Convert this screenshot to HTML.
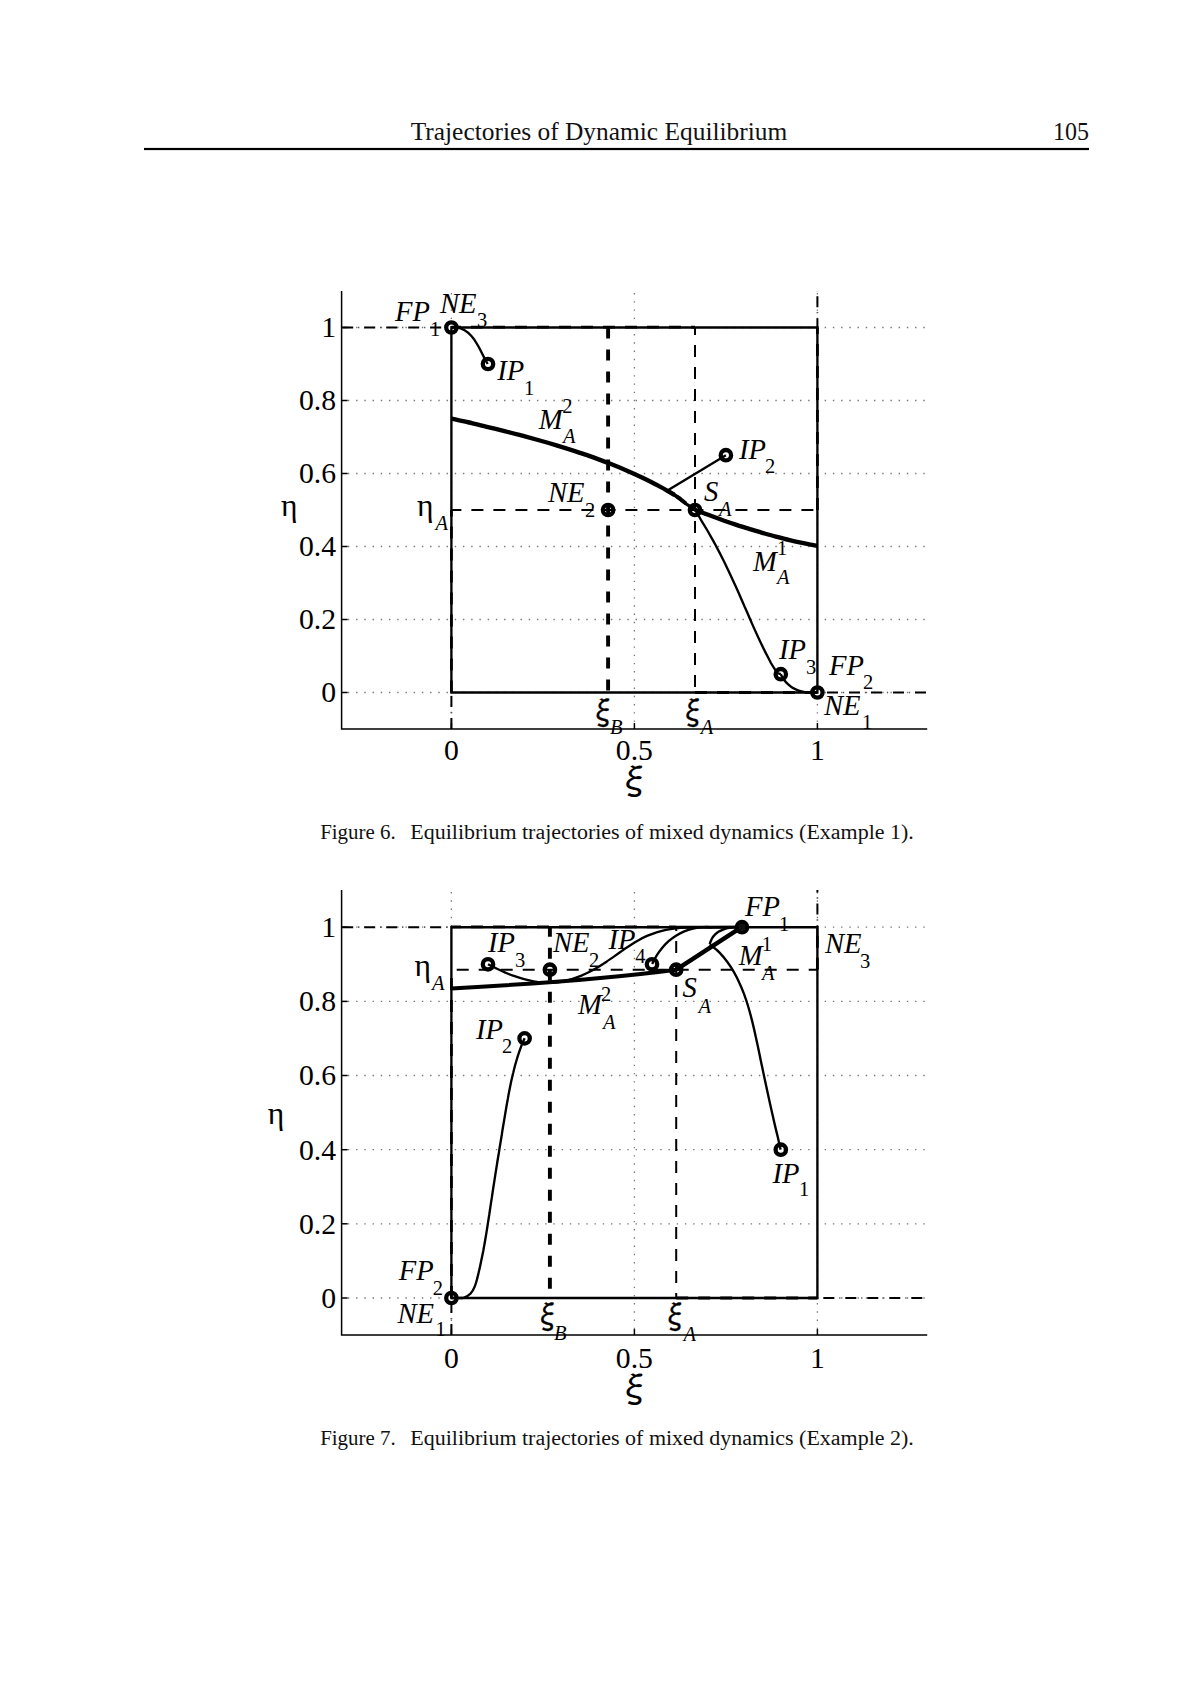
<!DOCTYPE html>
<html lang="en"><head><meta charset="utf-8"><title>Trajectories of Dynamic Equilibrium</title>
<style>
html,body{margin:0;padding:0;background:#fff}
body{width:1200px;height:1698px;overflow:hidden}
svg{display:block}
text{font-family:"Liberation Serif","DejaVu Serif",serif;fill:#000}
.t{font-size:29.7px}
.i{font-size:28.6px;font-style:italic}
.s{font-size:20.5px}
.si{font-size:20.5px;font-style:italic}
.g{font-size:31.5px}
.x{font-size:32px;font-family:"IPAGothic","Liberation Serif",serif;stroke:#000;stroke-width:.35}
.xl{font-size:36px;font-family:"IPAGothic","Liberation Serif",serif}
.cap{font-size:20px;fill:#111}
.hd{font-size:24.5px;fill:#111}
.ln{stroke:#000;stroke-width:2.35;fill:none}
.th{stroke:#000;stroke-width:4.4;fill:none}
.th2{stroke:#000;stroke-width:4;fill:none}
.m2{stroke:#000;stroke-width:3.8;fill:none}
.ov{stroke:#000;stroke-width:2.8;fill:none;stroke-dasharray:12 10}
.md{stroke:#000;stroke-width:3.2;fill:none}
.ax{stroke:#000;stroke-width:1.5;fill:none}
.grid{stroke:#777;stroke-width:1.3;fill:none;stroke-dasharray:1.4 6.82}
.dsh{stroke:#000;stroke-width:2;fill:none;stroke-dasharray:12 10}
.dshk{stroke:#000;stroke-width:3.9;fill:none;stroke-dasharray:11 11}
.dd{stroke:#000;stroke-width:2;fill:none;stroke-dasharray:11 11}
.dt{stroke:#555;stroke-width:1.7;fill:none;stroke-dasharray:1.3 20.7}
.mk{stroke:#000;stroke-width:4.3;fill:none}
</style></head><body>
<svg width="1200" height="1698" viewBox="0 0 1200 1698">
<rect x="0" y="0" width="1200" height="1698" fill="#fff"/>
<text class="hd" x="410.7" y="140" textLength="376.6" lengthAdjust="spacingAndGlyphs">Trajectories of Dynamic Equilibrium</text>
<text class="hd" x="1053" y="140.3" textLength="36" lengthAdjust="spacingAndGlyphs">105</text>
<rect x="144" y="147.9" width="945" height="2.2" fill="#000"/>
<g id="fig6">
<path class="grid" d="M347.9,692.5H927.2"/>
<path class="grid" d="M347.9,619.5H927.2"/>
<path class="grid" d="M347.9,546.5H927.2"/>
<path class="grid" d="M347.9,473.5H927.2"/>
<path class="grid" d="M347.9,400.5H927.2"/>
<path class="grid" d="M347.9,327.5H927.2"/>
<path class="grid" d="M451.4,293.0V729.0"/>
<path class="grid" d="M634.4,293.0V729.0"/>
<path class="grid" d="M817.4,293.0V729.0"/>
<path class="ax" d="M341.6,291.0V729.0H927.2"/>
<path class="ax" d="M341.6,692.5h6"/>
<path class="ax" d="M341.6,619.5h6"/>
<path class="ax" d="M341.6,546.5h6"/>
<path class="ax" d="M341.6,473.5h6"/>
<path class="ax" d="M341.6,400.5h6"/>
<path class="ax" d="M341.6,327.5h6"/>
<path class="ax" d="M451.4,729.0v-6"/>
<path class="ax" d="M634.4,729.0v-6"/>
<path class="ax" d="M817.4,729.0v-6"/>
<text class="t" x="336" y="702.2" text-anchor="end">0</text>
<text class="t" x="336" y="629.2" text-anchor="end">0.2</text>
<text class="t" x="336" y="556.2" text-anchor="end">0.4</text>
<text class="t" x="336" y="483.2" text-anchor="end">0.6</text>
<text class="t" x="336" y="410.2" text-anchor="end">0.8</text>
<text class="t" x="336" y="337.2" text-anchor="end">1</text>
<text class="t" x="451.4" y="760" text-anchor="middle">0</text>
<text class="t" x="634.4" y="760" text-anchor="middle">0.5</text>
<text class="t" x="817.4" y="760" text-anchor="middle">1</text>
<text class="g" x="281" y="515.7">η</text>
<text class="xl" x="616.7" y="793.7">ξ</text>
<path class="dd" stroke-dashoffset="0.00" d="M342.2,327.5H451.4"/><path class="dt" stroke-dashoffset="6.15" d="M342.2,327.5H451.4"/>
<path class="dd" stroke-dashoffset="0.00" d="M817.4,329.2V291.0"/><path class="dt" stroke-dashoffset="6.15" d="M817.4,329.2V291.0"/>
<path class="dd" stroke-dashoffset="12.40" d="M817.4,692.5H927.2"/><path class="dt" stroke-dashoffset="18.55" d="M817.4,692.5H927.2"/>
<path class="dd" stroke-dashoffset="0.00" d="M451.4,729.0V692.5"/><path class="dt" stroke-dashoffset="6.15" d="M451.4,729.0V692.5"/>
<path class="ln" d="M451.4,327.5H817.4V692.5H451.4Z"/>
<path class="ov" stroke-dashoffset="2.4" d="M451.4,327.2H695.0"/>
<path class="ov" d="M695.0,692.5H817.4"/>
<path class="ov" d="M451.4,692.5V510.0"/>
<path class="ov" d="M817.4,510.0V327.5"/>
<path class="dshk" d="M608.1,327.5V692.5"/>
<path class="dsh" stroke-dashoffset="4.5" d="M695.0,327.5V692.5"/>
<path class="dsh" stroke-dashoffset="2" d="M451.4,510.0H817.4"/>
<path class="th" d="M451.4,418.6 C457.3,420.0 463.3,421.1 469.2,422.5 C475.0,423.9 480.9,425.3 486.8,426.8 C492.7,428.2 498.6,429.7 504.5,431.1 C510.4,432.6 516.3,434.1 522.2,435.7 C528.1,437.3 534.0,438.9 539.8,440.5 C545.7,442.1 551.5,443.8 557.3,445.6 C563.2,447.4 569.0,449.2 574.8,451.1 C580.5,452.9 586.3,454.9 592.0,456.9 C597.7,459.0 603.4,461.1 609.1,463.3 C614.7,465.5 620.3,467.8 625.9,470.2 C631.5,472.6 637.0,475.1 642.5,477.7 C647.9,480.3 653.4,483.0 658.7,485.9 C664.1,488.7 669.2,491.9 674.5,495.0"/>
<path class="m2" d="M667.5,490.7 C669.2,491.6 670.8,492.6 672.4,493.6 C674.0,494.5 675.6,495.6 677.1,496.7 C678.6,497.7 680.2,498.8 681.6,500.0 C683.1,501.2 684.6,502.4 686.0,503.6"/>
<path class="md" d="M676.0,496.0 C677.5,497.3 679.0,498.5 680.6,499.7 C682.1,500.9 683.7,502.0 685.3,503.2 C686.8,504.3 688.5,505.4 690.1,506.5 C691.7,507.6 693.3,508.7 695.0,509.7"/>
<path class="th" d="M695.0,509.7 C699.4,511.4 703.8,513.2 708.2,514.8 C712.7,516.5 717.1,518.1 721.6,519.7 C726.0,521.3 730.5,522.8 735.0,524.3 C739.5,525.8 744.0,527.3 748.5,528.7 C753.1,530.1 757.6,531.5 762.1,532.8 C766.7,534.1 771.2,535.4 775.8,536.6 C780.4,537.8 785.0,539.0 789.6,540.1 C794.2,541.2 798.8,542.2 803.5,543.2 C808.1,544.2 812.7,545.1 817.4,545.9"/>
<path class="ln" d="M451.4,327.5 C454.8,327.1 457.8,327.5 460.7,328.5 C463.5,329.4 466.1,331.0 468.3,332.9 C470.6,334.9 472.6,337.3 474.4,339.8 C476.1,342.3 477.7,345.0 479.2,347.8 C480.6,350.6 482.0,353.4 483.4,356.1 C484.8,358.9 486.2,361.5 487.7,364.0"/>
<path class="ln" d="M725.9,455.2L667.5,490.5"/>
<path class="ln" d="M695.3,510.0 C697.6,513.4 699.2,517.1 701.4,520.6 C703.5,524.0 705.6,527.5 707.7,531.0 C709.7,534.5 711.7,538.1 713.7,541.6 C715.6,545.2 717.5,548.8 719.4,552.4 C721.2,556.0 723.1,559.6 724.9,563.2 C726.6,566.9 728.4,570.5 730.1,574.2 C731.8,577.9 733.5,581.6 735.2,585.3 C736.9,589.0 738.5,592.7 740.2,596.4 C741.8,600.1 743.4,603.9 745.0,607.6 C746.7,611.3 748.3,615.0 749.9,618.8 C751.5,622.5 753.2,626.2 754.8,629.9 C756.5,633.6 758.2,637.3 759.9,641.0 C761.7,644.6 763.4,648.3 765.2,651.9 C767.1,655.5 768.9,659.1 770.8,662.7 C772.8,666.3 775.1,669.6 777.2,673.1 L780.8,674.2"/>
<path class="ln" d="M780.8,674.2 C781.7,676.2 782.8,678.0 784.0,679.7 C785.2,681.4 786.6,683.0 788.2,684.4 C789.7,685.8 791.3,687.1 793.1,688.1 C794.9,689.2 796.8,690.0 798.7,690.6 C800.7,691.3 802.8,691.8 804.8,692.1 C806.9,692.4 809.0,692.5 811.1,692.6 C813.3,692.6 815.3,692.6 817.4,692.5"/>
<circle class="mk" cx="451.4" cy="327.5" r="5.2"/>
<circle class="mk" cx="488.0" cy="364.0" r="5.2"/>
<circle class="mk" cx="725.9" cy="455.2" r="5.2"/>
<circle class="mk" cx="608.1" cy="510.0" r="5.2"/>
<circle class="mk" cx="695.0" cy="510.0" r="5.2"/>
<circle class="mk" cx="780.8" cy="674.2" r="5.2"/>
<circle class="mk" cx="817.4" cy="692.5" r="5.2"/>
<text class="i" x="395" y="321">FP</text><text class="s" x="430" y="335.5">1</text>
<text class="i" x="440" y="313">NE</text><text class="s" x="477" y="327">3</text>
<text class="i" x="497.3" y="380">IP</text><text class="s" x="524" y="394.7">1</text>
<text class="i" x="538.7" y="428.7">M</text><text class="si" x="563" y="442.7">A</text><text class="s" x="562.3" y="412.7">2</text>
<text class="i" x="739" y="458.6">IP</text><text class="s" x="765" y="473">2</text>
<text class="i" x="704" y="501">S</text><text class="si" x="719" y="516">A</text>
<text class="i" x="548" y="502">NE</text><text class="s" x="585" y="517">2</text>
<text class="i" x="753" y="571">M</text><text class="si" x="777" y="584">A</text><text class="s" x="777" y="555">1</text>
<text class="i" x="779" y="659">IP</text><text class="s" x="806" y="674">3</text>
<text class="i" x="829" y="675">FP</text><text class="s" x="863" y="689">2</text>
<text class="i" x="824" y="715">NE</text><text class="s" x="862" y="729">1</text>
<text class="g" x="417" y="515.7">η</text><text class="si" x="435.5" y="530">A</text>
<text class="x" transform="translate(589.2,723.7) scale(0.88,1)">ξ</text><text class="si" x="610" y="733.7">B</text>
<text class="x" transform="translate(679,723.7) scale(0.88,1)">ξ</text><text class="si" x="700.7" y="733.7">A</text>
</g>
<text class="cap" x="320.2" y="839.3" textLength="75.5" lengthAdjust="spacingAndGlyphs">Figure 6.</text>
<text class="cap" x="410.3" y="839.3" textLength="503.5" lengthAdjust="spacingAndGlyphs">Equilibrium trajectories of mixed dynamics (Example 1).</text>
<g id="fig7">
<path class="grid" d="M347.9,1298.0H927.2"/>
<path class="grid" d="M347.9,1223.8H927.2"/>
<path class="grid" d="M347.9,1149.7H927.2"/>
<path class="grid" d="M347.9,1075.5H927.2"/>
<path class="grid" d="M347.9,1001.4H927.2"/>
<path class="grid" d="M347.9,927.2H927.2"/>
<path class="grid" d="M451.4,892.1V1335.1"/>
<path class="grid" d="M634.4,892.1V1335.1"/>
<path class="grid" d="M817.4,892.1V1335.1"/>
<path class="ax" d="M341.6,890.1V1335.1H927.2"/>
<path class="ax" d="M341.6,1298.0h6"/>
<path class="ax" d="M341.6,1223.8h6"/>
<path class="ax" d="M341.6,1149.7h6"/>
<path class="ax" d="M341.6,1075.5h6"/>
<path class="ax" d="M341.6,1001.4h6"/>
<path class="ax" d="M341.6,927.2h6"/>
<path class="ax" d="M451.4,1335.1v-6"/>
<path class="ax" d="M634.4,1335.1v-6"/>
<path class="ax" d="M817.4,1335.1v-6"/>
<text class="t" x="336" y="1307.9" text-anchor="end">0</text>
<text class="t" x="336" y="1233.7" text-anchor="end">0.2</text>
<text class="t" x="336" y="1159.6" text-anchor="end">0.4</text>
<text class="t" x="336" y="1085.4" text-anchor="end">0.6</text>
<text class="t" x="336" y="1011.3" text-anchor="end">0.8</text>
<text class="t" x="336" y="937.1" text-anchor="end">1</text>
<text class="t" x="451.4" y="1367.5" text-anchor="middle">0</text>
<text class="t" x="634.4" y="1367.5" text-anchor="middle">0.5</text>
<text class="t" x="817.4" y="1367.5" text-anchor="middle">1</text>
<text class="g" x="267.8" y="1123.7">η</text>
<text class="xl" x="617" y="1402">ξ</text>
<path class="dd" stroke-dashoffset="0.00" d="M342.2,927.2H451.4"/><path class="dt" stroke-dashoffset="6.15" d="M342.2,927.2H451.4"/>
<path class="dd" stroke-dashoffset="0.00" d="M817.4,936.5V890.1"/><path class="dt" stroke-dashoffset="6.15" d="M817.4,936.5V890.1"/>
<path class="dd" stroke-dashoffset="16.10" d="M817.4,1298.0H927.2"/><path class="dt" stroke-dashoffset="22.25" d="M817.4,1298.0H927.2"/>
<path class="dd" stroke-dashoffset="0.00" d="M451.4,1335.1V1298.0"/><path class="dt" stroke-dashoffset="6.15" d="M451.4,1335.1V1298.0"/>
<path class="ln" d="M451.4,927.2H817.4V1298.0H451.4Z"/>
<path class="ov" stroke-dashoffset="2.4" d="M451.4,926.9H676.2"/>
<path class="ov" d="M676.2,1298.0H817.4"/>
<path class="ov" d="M451.4,1298.0V969.7"/>
<path class="ov" d="M817.4,969.7V927.2"/>
<path class="ln" style="stroke-width:2.8" d="M676.2,927.2H742.0"/>
<path class="dshk" stroke-dashoffset="1.5" d="M549.9,927.2V1298.0"/>
<path class="dsh" stroke-dashoffset="8.3" d="M676.2,927.2V1298.0"/>
<path class="dsh" stroke-dashoffset="16.7" d="M451.4,969.7H817.4"/>
<path class="th2" d="M451.4,988.4 Q590,981 676.3,969.7"/>
<path class="th" d="M676.3,969.7 L742,926.9"/>
<path class="ln" d="M488.0,964.2 C490.7,965.7 493.6,967.0 496.5,968.5 C499.4,969.9 502.3,971.3 505.3,972.6 C508.4,973.9 511.4,975.1 514.6,976.2 C517.7,977.3 520.9,978.4 524.1,979.2 C527.3,980.1 530.5,980.9 533.7,981.4 C536.9,982.0 540.2,982.4 543.4,982.6 C546.6,982.9 549.8,982.9 553.0,982.7 C556.2,982.5 559.4,982.1 562.5,981.5 C565.6,980.9 568.7,980.1 571.8,979.1 C574.8,978.2 577.8,977.1 580.8,975.9 C583.8,974.6 586.8,973.3 589.7,971.8 C592.6,970.3 595.4,968.7 598.2,967.0 C601.0,965.3 603.8,963.5 606.5,961.7 C609.2,959.8 611.9,958.0 614.6,956.1 C617.3,954.2 619.9,952.3 622.6,950.4 C625.3,948.6 628.0,946.7 630.7,945.0 C633.4,943.2 636.2,941.5 639.0,940.0 C641.8,938.4 644.6,937.0 647.6,935.7 C650.5,934.4 653.5,933.3 656.6,932.3 C659.6,931.4 662.8,930.6 666.0,929.9 C669.1,929.3 672.4,928.8 675.6,928.4 C678.9,928.0 682.2,927.7 685.5,927.5 C688.8,927.3 692.1,927.3 695.3,927.3 C698.6,927.3 701.8,927.1 705.0,927.2 L742,927"/>
<path class="ln" d="M652.2,964.0 C653.4,961.0 655.0,958.3 656.6,955.6 C658.2,952.9 660.1,950.3 662.1,947.9 C664.1,945.5 666.3,943.3 668.6,941.2 C670.9,939.2 673.4,937.3 676.0,935.7 C678.7,934.0 681.4,932.6 684.3,931.4 C687.1,930.2 690.1,929.3 693.1,928.6 C696.2,927.9 699.3,927.4 702.5,927.2 C705.6,927.0 708.8,926.9 712.0,927.3"/>
<path class="ln" d="M709.8,944.3 C710.2,942.2 710.9,940.4 711.8,938.8 C712.7,937.1 713.9,935.6 715.2,934.4 C716.6,933.1 718.1,932.0 719.7,931.1 C721.4,930.2 723.1,929.4 725.0,928.8 C726.8,928.2 728.7,927.8 730.6,927.5 C732.6,927.2 734.5,927.0 736.4,926.9 C738.3,926.9 740.2,926.9 742.0,927.0"/>
<path class="ln" d="M780.6,1149.6 C779.6,1145.6 778.8,1141.6 777.9,1137.6 C776.9,1133.6 776.0,1129.6 775.0,1125.6 C774.1,1121.7 773.2,1117.7 772.3,1113.7 C771.4,1109.7 770.5,1105.7 769.6,1101.8 C768.7,1097.8 767.9,1093.8 767.0,1089.8 C766.1,1085.8 765.3,1081.8 764.4,1077.8 C763.6,1073.8 762.7,1069.8 761.9,1065.8 C761.0,1061.7 760.2,1057.7 759.4,1053.7 C758.5,1049.6 757.7,1045.6 756.8,1041.5 C755.9,1037.5 755.1,1033.5 754.1,1029.4 C753.2,1025.4 752.3,1021.4 751.2,1017.4 C750.2,1013.4 749.1,1009.5 747.9,1005.5 C746.7,1001.6 745.4,997.8 744.0,993.9 C742.6,990.1 741.0,986.4 739.3,982.7 C737.7,979.0 735.8,975.4 733.8,971.9 C731.8,968.4 729.6,965.0 727.2,961.8 C724.8,958.5 722.2,955.4 719.3,952.4 C716.4,949.4 713.2,947.0 709.8,944.3"/>
<path class="ln" d="M524.6,1038.3 C523.4,1041.1 522.1,1043.8 521.1,1046.6 C520.0,1049.5 519.1,1052.3 518.1,1055.2 C517.2,1058.0 516.4,1060.9 515.5,1063.8 C514.7,1066.7 514.0,1069.6 513.3,1072.5 C512.5,1075.4 511.9,1078.4 511.2,1081.3 C510.6,1084.3 510.0,1087.2 509.4,1090.2 C508.8,1093.1 508.3,1096.1 507.8,1099.0 C507.2,1102.0 506.7,1105.0 506.2,1108.0 C505.7,1110.9 505.2,1113.9 504.7,1116.9 C504.2,1119.9 503.7,1122.8 503.2,1125.8 C502.7,1128.8 502.2,1131.8 501.8,1134.7 C501.3,1137.7 500.8,1140.7 500.3,1143.7 C499.8,1146.6 499.3,1149.6 498.9,1152.6 C498.4,1155.6 497.9,1158.5 497.4,1161.5 C497.0,1164.5 496.5,1167.5 496.0,1170.4 C495.5,1173.4 495.1,1176.4 494.6,1179.4 C494.2,1182.3 493.7,1185.3 493.2,1188.3 C492.8,1191.3 492.3,1194.2 491.9,1197.2 C491.4,1200.2 491.0,1203.1 490.5,1206.1 C490.1,1209.1 489.6,1212.1 489.2,1215.0 C488.7,1218.0 488.3,1221.0 487.8,1223.9 C487.4,1226.9 486.9,1229.9 486.4,1232.9 C485.9,1235.8 485.4,1238.8 484.9,1241.8 C484.4,1244.7 483.8,1247.7 483.3,1250.7 C482.7,1253.6 482.1,1256.6 481.5,1259.6 C480.9,1262.5 480.3,1265.5 479.6,1268.5 C478.9,1271.5 478.2,1274.4 477.5,1277.4 C476.7,1280.4 476.0,1283.3 474.9,1286.1 C473.8,1288.9 472.5,1291.4 470.6,1293.6 C468.8,1295.7 466.2,1297.0 463.0,1298.0 L451.4,1298"/>
<circle class="mk" cx="451.4" cy="1298.0" r="5.2"/>
<circle class="mk" cx="488.0" cy="964.3" r="5.2"/>
<circle class="mk" cx="524.6" cy="1038.4" r="5.2"/>
<circle class="mk" cx="549.9" cy="969.7" r="5.2"/>
<circle class="mk" cx="652.0" cy="964.3" r="5.2"/>
<circle class="mk" cx="676.2" cy="969.7" r="5.2"/>
<circle class="mk" cx="742.0" cy="927.2" r="5.2"/>
<circle class="mk" cx="780.8" cy="1149.7" r="5.2"/>
<circle cx="742.0" cy="927.2" r="3.4" fill="#111"/>
<text class="i" x="745" y="916">FP</text><text class="s" x="779" y="931">1</text>
<text class="i" x="825" y="952.5">NE</text><text class="s" x="860" y="967.5">3</text>
<text class="i" x="488" y="952">IP</text><text class="s" x="515" y="967">3</text>
<text class="i" x="553" y="952">NE</text><text class="s" x="589" y="967">2</text>
<text class="i" x="608.5" y="949">IP</text><text class="s" x="635.3" y="963">4</text>
<text class="i" x="738.7" y="965">M</text><text class="si" x="762" y="980">A</text><text class="s" x="761.7" y="951">1</text>
<text class="i" x="682.5" y="997">S</text><text class="si" x="698.5" y="1012.5">A</text>
<text class="i" x="578" y="1014.4">M</text><text class="si" x="603" y="1029">A</text><text class="s" x="601" y="1001">2</text>
<text class="i" x="476" y="1038.6">IP</text><text class="s" x="502" y="1053">2</text>
<text class="i" x="772.5" y="1182.5">IP</text><text class="s" x="799" y="1196">1</text>
<text class="i" x="398.7" y="1280">FP</text><text class="s" x="432.7" y="1295">2</text>
<text class="i" x="397.5" y="1322.5">NE</text><text class="s" x="435.5" y="1336">1</text>
<text class="g" x="414.5" y="976">η</text><text class="si" x="432" y="989.6">A</text>
<text class="x" transform="translate(533.7,1328) scale(0.88,1)">ξ</text><text class="si" x="554" y="1340">B</text>
<text class="x" transform="translate(661.2,1328) scale(0.88,1)">ξ</text><text class="si" x="683.5" y="1340.5">A</text>
</g>
<text class="cap" x="320.2" y="1445.3" textLength="75.5" lengthAdjust="spacingAndGlyphs">Figure 7.</text>
<text class="cap" x="410.3" y="1445.3" textLength="503.5" lengthAdjust="spacingAndGlyphs">Equilibrium trajectories of mixed dynamics (Example 2).</text>
</svg>
</body></html>
